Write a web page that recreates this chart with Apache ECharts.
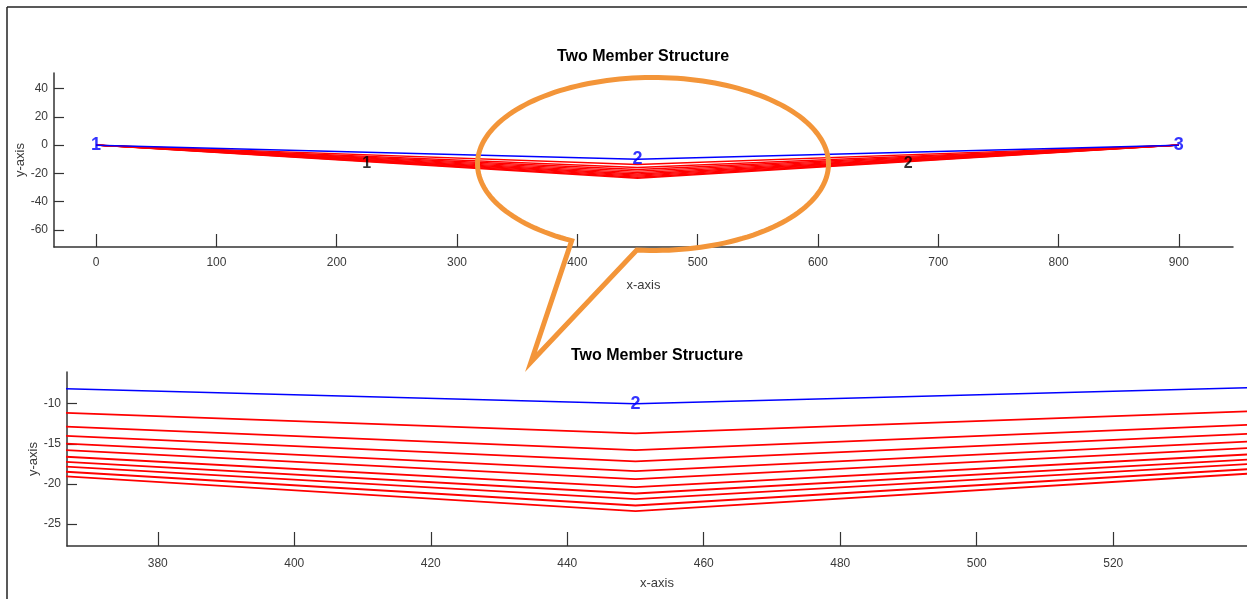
<!DOCTYPE html>
<html><head><meta charset="utf-8">
<script src="https://cdn.jsdelivr.net/npm/echarts@6/dist/echarts.min.js"></script>
<style>html,body{margin:0;padding:0;background:#fff}#c{width:1247px;height:599px}</style>
</head><body><div id="c"></div>
<script>
// ---- data ----
const nodeX = [0, 450, 900];
const nodeY = [0, -10, 0];
const nodeLabels = ['1', '2', '3'];
const deformedNode2Y = [-13.7, -15.8, -17.2, -18.4, -19.4, -20.4, -21.2, -21.9, -22.7, -23.4];
const memberLabels = ['1', '2'];
const memberLabelX = [225, 675];
const memberLabelY = [-13, -13];
const topXTicks = [0, 100, 200, 300, 400, 500, 600, 700, 800, 900];
const topYTicks = [-60, -40, -20, 0, 20, 40];
const zoomXTicks = [380, 400, 420, 440, 460, 480, 500, 520];
const zoomYTicks = [-25, -20, -15, -10];
const titleText = 'Two Member Structure';
const xName = 'x-axis';
const yName = 'y-axis';

// ---- chart ----
const FONT = 'Liberation Sans, Arial, Helvetica, sans-serif';
const AX = '#333333';
const chart = echarts.init(document.getElementById('c'), null, {renderer: 'canvas'});

function xAxis(g, min, max, ticks, tickLen, gap, margin) {
  return {
    type: 'value', gridIndex: g, min: min, max: max,
    name: xName, nameLocation: 'middle', nameGap: gap,
    nameTextStyle: {fontFamily: FONT, fontSize: 13, color: '#3a3a3a'},
    axisLine: {show: true, onZero: false, lineStyle: {color: AX, width: 1.5}},
    axisTick: {show: true, inside: true, length: tickLen, customValues: ticks, lineStyle: {color: AX, width: 1.2}},
    axisLabel: {customValues: ticks, margin: margin, fontFamily: FONT, fontSize: 12, color: '#3a3a3a'},
    splitLine: {show: false}
  };
}
function yAxis(g, min, max, ticks, gap) {
  return {
    type: 'value', gridIndex: g, min: min, max: max,
    name: yName, nameLocation: 'middle', nameGap: gap, nameRotate: 90, nameMoveOverlap: false,
    nameTextStyle: {fontFamily: FONT, fontSize: 13, color: '#3a3a3a'},
    axisLine: {show: true, onZero: false, lineStyle: {color: AX, width: 1.5}},
    axisTick: {show: true, inside: true, length: 10, customValues: ticks, lineStyle: {color: AX, width: 1.2}},
    axisLabel: {customValues: ticks, margin: 6, fontFamily: FONT, fontSize: 12, color: '#3a3a3a'},
    splitLine: {show: false}
  };
}

const series = [];
[0, 1].forEach(function (g) {
  deformedNode2Y.forEach(function (d) {
    series.push({
      type: 'line', xAxisIndex: g, yAxisIndex: g, symbol: 'none', silent: true,
      data: nodeX.map(function (x, i) { return [x, i === 1 ? d : nodeY[i]]; }),
      lineStyle: {color: '#ff0000', width: g === 0 ? 1.4 : 1.8}
    });
  });
  series.push({
    type: 'line', xAxisIndex: g, yAxisIndex: g, symbol: 'none', silent: true,
    data: nodeX.map(function (x, i) { return [x, nodeY[i]]; }),
    lineStyle: {color: '#0000ff', width: 1.5}, z: 3
  });
  series.push({
    type: 'scatter', xAxisIndex: g, yAxisIndex: g, symbolSize: 0, silent: true, z: 5,
    data: nodeX.map(function (x, i) { return {name: nodeLabels[i], value: [x, nodeY[i]]}; }),
    label: {show: true, position: 'inside', formatter: '{b}', color: '#0000ff',
            fontFamily: FONT, fontWeight: 'bold', fontSize: 18}
  });
  if (g === 0) {
    series.push({
      type: 'scatter', xAxisIndex: g, yAxisIndex: g, symbolSize: 0, silent: true, z: 5,
      data: memberLabelX.map(function (x, i) { return {name: memberLabels[i], value: [x, memberLabelY[i]]}; }),
      label: {show: true, position: 'inside', formatter: '{b}', color: '#000',
              fontFamily: FONT, fontWeight: 'bold', fontSize: 16}
    });
  }
});

// speech-bubble callout (decoration, pixel space)
const cx = 653, cy = 164, rx = 175.5, ry = 86.5;
const tip = [531, 362];
const bubble = [tip];
const a0 = 95.3, a1 = -242.4;
for (let k = 0; k <= 160; k++) {
  const a = (a0 + (a1 - a0) * k / 160) * Math.PI / 180;
  bubble.push([cx + rx * Math.cos(a), cy + ry * Math.sin(a)]);
}

const option = {
  animation: false,
  backgroundColor: '#ffffff',
  title: [
    {text: titleText, left: 643, top: 49, textAlign: 'center', padding: 0,
     textStyle: {fontFamily: FONT, fontSize: 16, fontWeight: 'bold', color: '#000'}},
    {text: titleText, left: 657, top: 348, textAlign: 'center', padding: 0,
     textStyle: {fontFamily: FONT, fontSize: 16, fontWeight: 'bold', color: '#000'}}
  ],
  grid: [
    {left: 54, right: 14, top: 73, bottom: 352},
    {left: 67, right: 0, top: 372, bottom: 53}
  ],
  xAxis: [xAxis(0, -35, 945, topXTicks, 13, 32, 10), xAxis(1, 366.7, 539.6, zoomXTicks, 14, 31, 12)],
  yAxis: [yAxis(0, -72, 51, topYTicks, 27), yAxis(1, -27.75, -6.05, zoomYTicks, 27)],
  series: series,
  graphic: [
    {type: 'line', z: 100, shape: {x1: 7, y1: 7, x2: 1247, y2: 7}, style: {stroke: '#222', lineWidth: 1.5}},
    {type: 'line', z: 100, shape: {x1: 7, y1: 7, x2: 7, y2: 599}, style: {stroke: '#222', lineWidth: 1.5}},
    {type: 'polygon', z: 100, shape: {points: bubble},
     style: {stroke: '#f39539', fill: null, lineWidth: 5, lineJoin: 'miter', miterLimit: 10}}
  ]
};
chart.setOption(option);
</script>
</body></html>
